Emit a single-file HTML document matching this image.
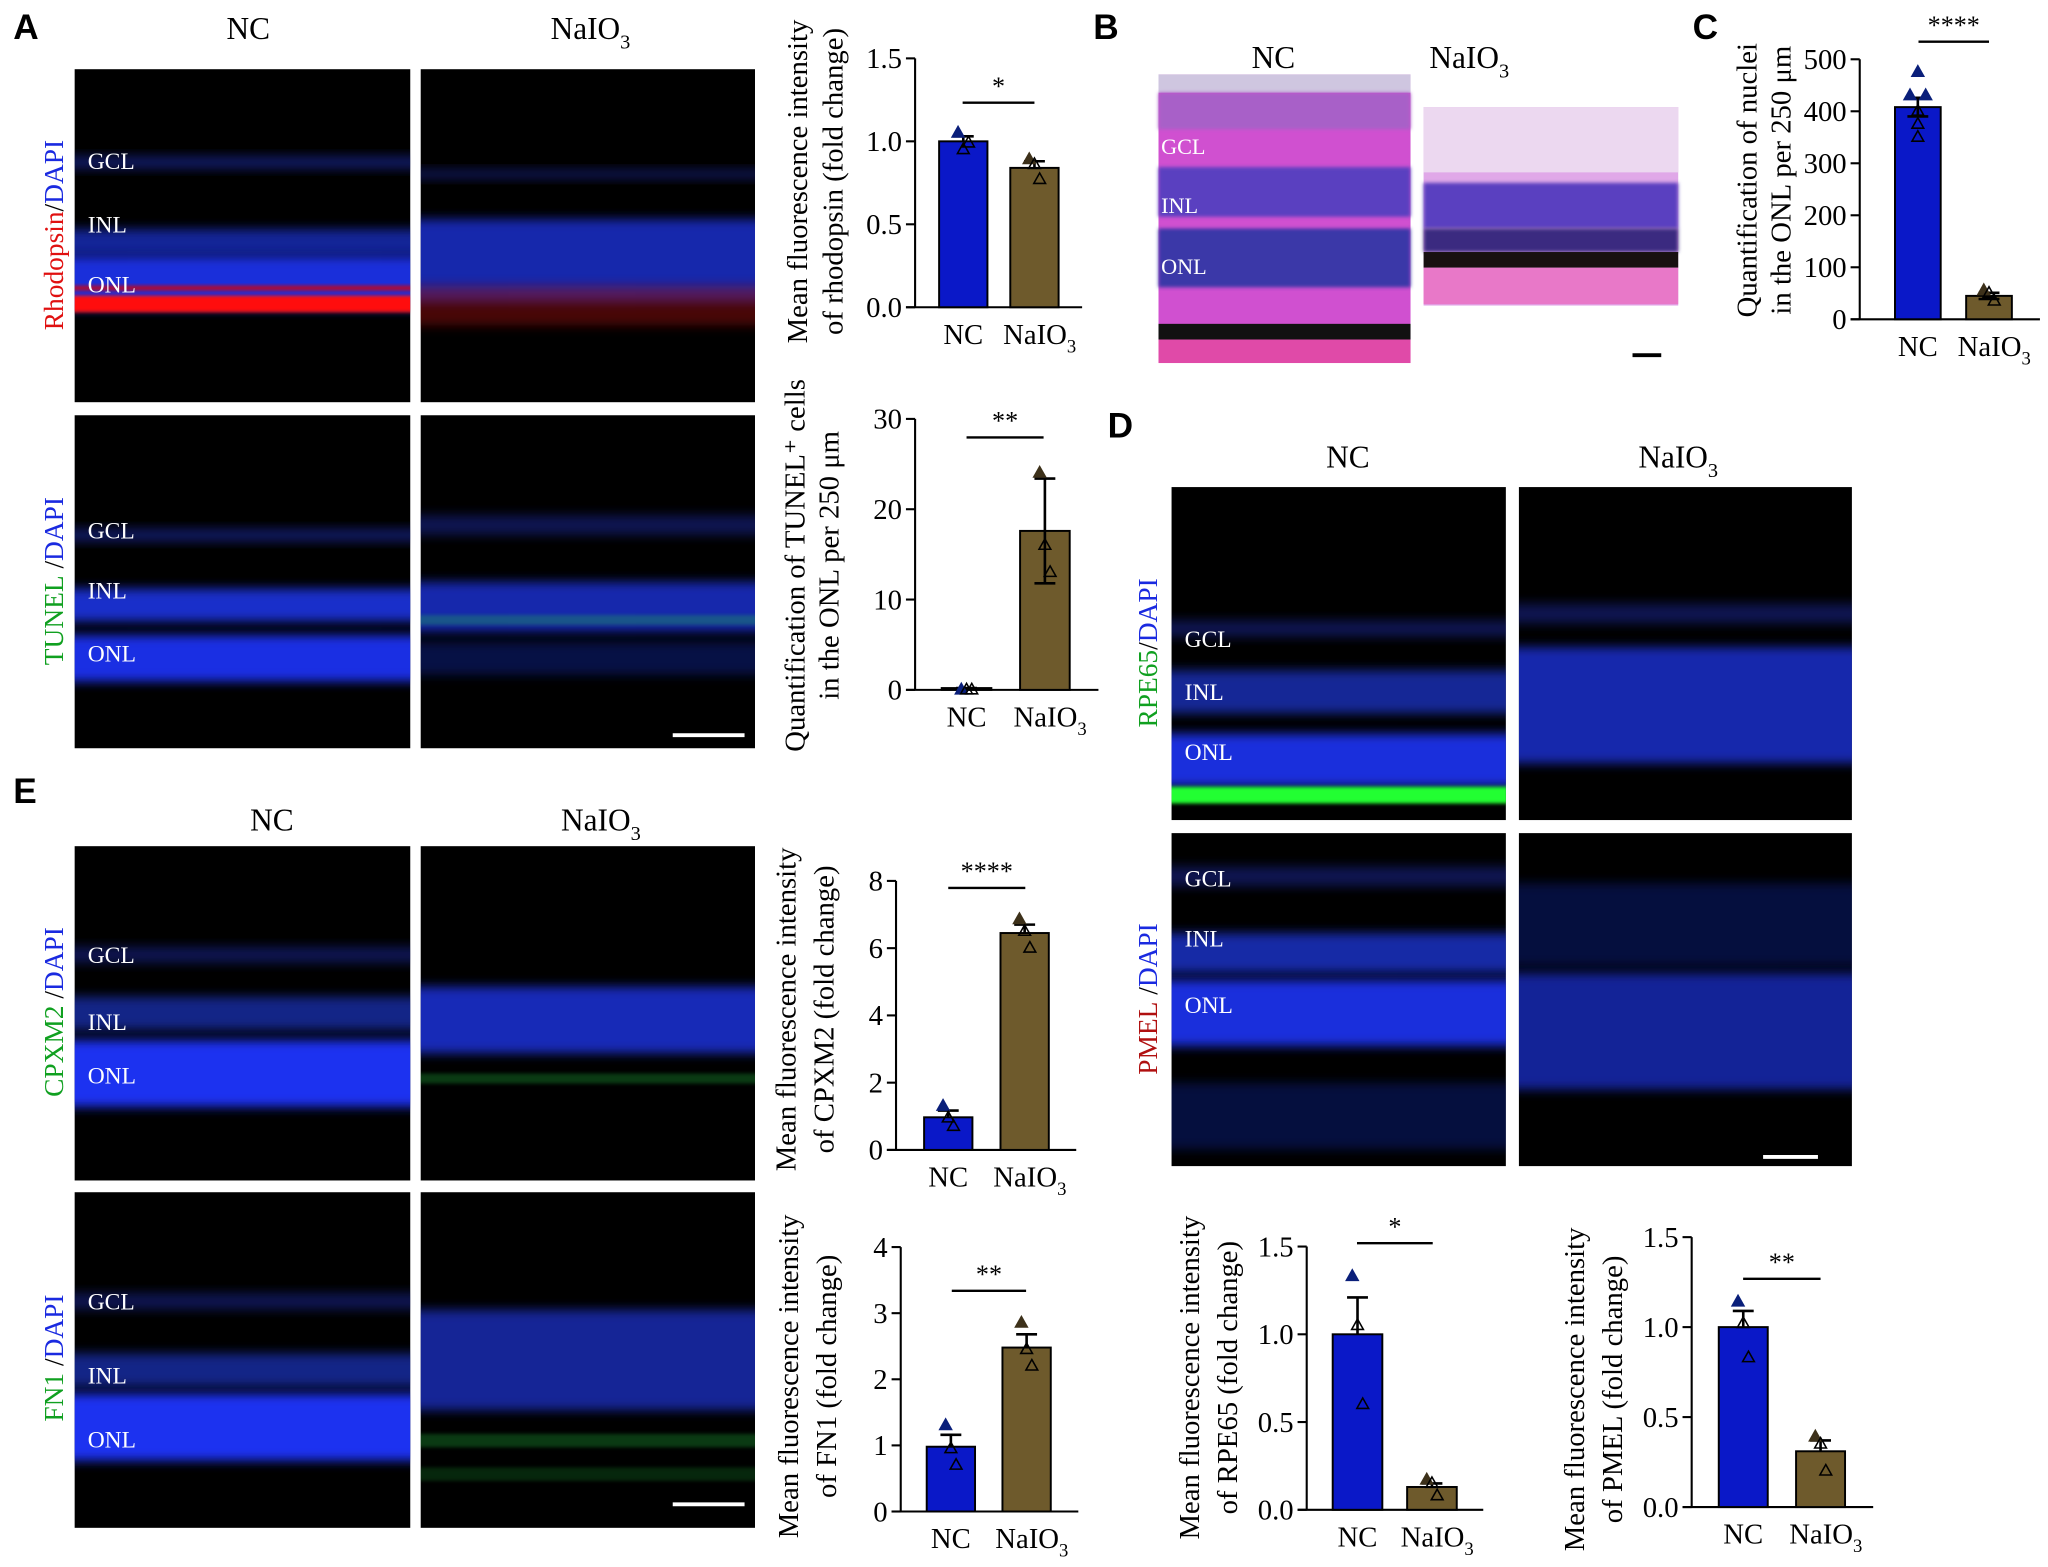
<!DOCTYPE html>
<html><head><meta charset="utf-8"><style>
html,body{margin:0;padding:0;background:#fff;}
svg{display:block;font-family:"Liberation Serif",serif;}
.pl{font-family:"Liberation Sans",sans-serif;font-weight:bold;font-size:27px;}
</style></head><body>
<svg id="fig" width="2048" height="1567" viewBox="0 0 1568 1200" xmlns="http://www.w3.org/2000/svg">
<defs>
<filter id="bl" x="-5%" y="-50%" width="110%" height="200%"><feGaussianBlur stdDeviation="4"/></filter>
<filter id="bl2" x="-5%" y="-50%" width="110%" height="200%"><feGaussianBlur stdDeviation="1.5"/></filter>
</defs>
<g id="micro"></g>
<g id="texts">
<text class="pl" x="10" y="30">A</text>
<text class="pl" x="837" y="30">B</text>
<text class="pl" x="1296" y="30">C</text>
<text class="pl" x="848" y="335">D</text>
<text class="pl" x="10" y="615">E</text>
</g>
<g id="charts"></g>
</svg>
<script>
// ---- Chart data ----
const groups = ["NC", "NaIO3"];
const a1Means = [1.0, 0.84];
const a1Errors = [0.03, 0.04];
const a1PointsNC = [1.05, 0.95, 0.99];
const a1PointsNa = [0.89, 0.86, 0.77];
const a1Ticks = [0, 0.5, 1.0, 1.5];
const a1TickLabels = ["0.0", "0.5", "1.0", "1.5"];

const a2Means = [0.2, 17.6];
const a2Errors = [0, 5.8];
const a2PointsNC = [0, 0, 0];
const a2PointsNa = [24, 16, 13];
const a2Ticks = [0, 10, 20, 30];
const a2TickLabels = ["0", "10", "20", "30"];

const cMeans = [408, 45];
const cErrors = [18, 6];
const cPointsNC = [475, 430, 430, 400, 375, 350];
const cPointsNa = [55, 50, 35];
const cTicks = [0, 100, 200, 300, 400, 500];
const cTickLabels = ["0", "100", "200", "300", "400", "500"];

const e1Means = [0.97, 6.45];
const e1Errors = [0.2, 0.25];
const e1PointsNC = [1.3, 0.95, 0.7];
const e1PointsNa = [6.85, 6.5, 6.0];
const e1Ticks = [0, 2, 4, 6, 8];
const e1TickLabels = ["0", "2", "4", "6", "8"];

const e2Means = [0.98, 2.48];
const e2Errors = [0.18, 0.2];
const e2PointsNC = [1.3, 0.95, 0.7];
const e2PointsNa = [2.85, 2.45, 2.2];
const e2Ticks = [0, 1, 2, 3, 4];
const e2TickLabels = ["0", "1", "2", "3", "4"];

const d1Means = [1.0, 0.13];
const d1Errors = [0.21, 0.02];
const d1PointsNC = [1.33, 1.05, 0.6];
const d1PointsNa = [0.17, 0.15, 0.08];
const d1Ticks = [0, 0.5, 1.0, 1.5];
const d1TickLabels = ["0.0", "0.5", "1.0", "1.5"];

const d2Means = [1.0, 0.31];
const d2Errors = [0.09, 0.06];
const d2PointsNC = [1.14, 1.02, 0.83];
const d2PointsNa = [0.39, 0.35, 0.2];
const d2Ticks = [0, 0.5, 1.0, 1.5];
const d2TickLabels = ["0.0", "0.5", "1.0", "1.5"];

const NS = "http://www.w3.org/2000/svg";
function mk(parent, tag, attrs, text) {
  const e = document.createElementNS(NS, tag);
  for (const k in attrs) e.setAttribute(k, attrs[k]);
  if (text !== undefined) e.textContent = text;
  parent.appendChild(e);
  return e;
}
const charts = document.getElementById('charts');
const micro = document.getElementById('micro');
const texts = document.getElementById('texts');

function nalabel(parent, x, y, size, anchor) {
  const t = mk(parent, 'text', {x: x, y: y, 'font-size': size, 'text-anchor': anchor || 'middle', fill: '#000'});
  
  
  mk(t, 'tspan', {}, 'NaIO');
  mk(t, 'tspan', {dy: size * 0.3, 'font-size': size * 0.65}, '3');
  return t;
}

function chart(name, L, means, errors, ptsNC, ptsNa, ticks, tickLabels, sig, titles) {
  const g = mk(charts, 'g', {});
  
  
  const max = ticks[ticks.length - 1];
  const y = v => L.y0 - (v / max) * (L.y0 - L.yTop);
  const ax = mk(g, 'line', {x1: L.ax, y1: L.yTop, x2: L.ax, y2: L.y0, stroke: '#000', 'stroke-width': 1.6});
  
  
  const bx = mk(g, 'line', {x1: L.ax - 7, y1: L.y0, x2: L.xEnd, y2: L.y0, stroke: '#000', 'stroke-width': 1.6});
  
  
  ticks.forEach((t, i) => {
    mk(g, 'line', {x1: L.ax - 7, y1: y(t), x2: L.ax, y2: y(t), stroke: '#000', 'stroke-width': 1.6});
    const tl = mk(g, 'text', {x: L.ax - 10, y: y(t) + 7.5, 'font-size': 22, 'text-anchor': 'end'}, tickLabels[i]);
    
    
  });
  const colors = ['#0a18c8', '#6e5a2c'];
  const ptCol = ['#0a1f7a', '#3d311a'];
  const allPts = [ptsNC, ptsNa];
  means.forEach((m, i) => {
    const cx = L.cx[i];
    const top = y(m);
    const r = mk(g, 'rect', {x: cx - L.bw / 2, y: top, width: L.bw, height: L.y0 - top, fill: colors[i], stroke: '#000', 'stroke-width': 1.5});
    
    
    const eTop = y(m + errors[i]);
    let d = `M${cx},${top} L${cx},${eTop} M${cx - 8},${eTop} L${cx + 8},${eTop}`;
    if (L.bothErr && errors[i] > 0) { const eb = y(m - errors[i]); d += ` M${cx},${top} L${cx},${eb} M${cx - 8},${eb} L${cx + 8},${eb}`; }
    if (L.bothErrAll) { const eb = y(m - errors[i]); d += ` M${cx},${top} L${cx},${eb} M${cx - 8},${eb} L${cx + 8},${eb}`; }
    const e = mk(g, 'path', {d: d, stroke: '#000', 'stroke-width': 2, fill: 'none'});
    
    
    allPts[i].forEach((p, j) => {
      const n = allPts[i].length;
      const off = n > 3 ? ([0, -6, 6, 0, 0, 0][j]) : (j - 1) * 4;
      const py = y(p);
      const filled = j === 0 || (n > 3 && j < 3);
      const tri = mk(g, 'path', {d: `M${cx + off},${py - 5} L${cx + off + 4.5},${py + 3} L${cx + off - 4.5},${py + 3} Z`, fill: filled ? ptCol[i] : 'none', stroke: filled ? ptCol[i] : '#000', 'stroke-width': 1.2});
      
      
    });
  });
  const xl = mk(g, 'text', {x: L.cx[0], y: L.y0 + 28, 'font-size': 22, 'text-anchor': 'middle'}, 'NC');
  
  
  nalabel(g, L.cx[1] + 4, L.y0 + 28, 22);
  const sl = mk(g, 'line', {x1: sig.x1, y1: sig.y, x2: sig.x2, y2: sig.y, stroke: '#000', 'stroke-width': 1.8});
  
  
  const st = mk(g, 'text', {x: (sig.x1 + sig.x2) / 2, y: sig.y - 6, 'font-size': 20, 'text-anchor': 'middle'}, sig.t);
  
  
  const tt = mk(g, 'text', {transform: `translate(${L.tx},${L.tcy}) rotate(-90)`, 'font-size': 22, 'text-anchor': 'middle'});
  
  
  mk(tt, 'tspan', {x: 0, y: 0}, titles[0]);
  mk(tt, 'tspan', {x: 0, y: L.ls || 28}, titles[1]);
}

chart('chart-rhodopsin', {ax: 700.6, y0: 235.3, yTop: 44.7, xEnd: 828.5, cx: [737.5, 792], bw: 37, tx: 618, tcy: 139, ls: 27},
  a1Means, a1Errors, a1PointsNC, a1PointsNa, a1Ticks, a1TickLabels, {x1: 737, x2: 792, y: 78.6, t: '*'},
  ['Mean fluorescence intensity', 'of rhodopsin (fold change)']);
chart('chart-tunel', {ax: 700.6, y0: 528.3, yTop: 320.8, xEnd: 841, cx: [740, 800], bw: 38, tx: 616, tcy: 433, bothErr: true, ls: 26},
  a2Means, a2Errors, a2PointsNC, a2PointsNa, a2Ticks, a2TickLabels, {x1: 740, x2: 799, y: 335, t: '**'},
  ['Quantification of TUNEL\u207A cells', 'in the ONL per 250 \u03BCm']);
chart('chart-nuclei', {ax: 1424, y0: 244.5, yTop: 45.4, xEnd: 1562, cx: [1468.5, 1523], bw: 35, tx: 1345, tcy: 138, bothErrAll: true, ls: 26},
  cMeans, cErrors, cPointsNC, cPointsNa, cTicks, cTickLabels, {x1: 1469, x2: 1523, y: 31.9, t: '****'},
  ['Quantification of nuclei', 'in the ONL per 250 \u03BCm']);
chart('chart-cpxm2', {ax: 686, y0: 880.6, yTop: 674.6, xEnd: 824, cx: [726, 784.5], bw: 37, tx: 609, tcy: 773, ls: 29},
  e1Means, e1Errors, e1PointsNC, e1PointsNa, e1Ticks, e1TickLabels, {x1: 726, x2: 785, y: 680, t: '****'},
  ['Mean fluorescence intensity', 'of CPXM2 (fold change)']);
chart('chart-fn1', {ax: 689.6, y0: 1157.5, yTop: 955, xEnd: 825.6, cx: [728, 786], bw: 37, tx: 611, tcy: 1054, ls: 29},
  e2Means, e2Errors, e2PointsNC, e2PointsNa, e2Ticks, e2TickLabels, {x1: 728.7, x2: 785.6, y: 988.5, t: '**'},
  ['Mean fluorescence intensity', 'of FN1 (fold change)']);
chart('chart-rpe65', {ax: 1000.5, y0: 1156.2, yTop: 954.6, xEnd: 1135.7, cx: [1039.4, 1096.4], bw: 38, tx: 918, tcy: 1055, ls: 29},
  d1Means, d1Errors, d1PointsNC, d1PointsNa, d1Ticks, d1TickLabels, {x1: 1039, x2: 1097, y: 952, t: '*'},
  ['Mean fluorescence intensity', 'of RPE65 (fold change)']);
chart('chart-pmel', {ax: 1295.3, y0: 1154.1, yTop: 947.4, xEnd: 1434.3, cx: [1334.8, 1394], bw: 37.5, tx: 1213, tcy: 1064, ls: 29},
  d2Means, d2Errors, d2PointsNC, d2PointsNa, d2Ticks, d2TickLabels, {x1: 1334.7, x2: 1394, y: 979.3, t: '**'},
  ['Mean fluorescence intensity', 'of PMEL (fold change)']);

// ---- Micrographs (decorative) ----
function panel(name, x, y, w, h, bands, labels) {
  const g = mk(micro, 'g', {});
  
  
  mk(g, 'rect', {x: x, y: y, width: w, height: h, fill: '#000'});
  const cp = 'cp' + name;
  const c = mk(g, 'clipPath', {id: cp});
  mk(c, 'rect', {x: x, y: y, width: w, height: h});
  const inner = mk(g, 'g', {'clip-path': `url(#${cp})`});
  bands.forEach(b => {
    mk(inner, 'rect', {x: x - 10, y: y + b[0] * h, width: w + 20, height: b[1] * h, fill: b[2], opacity: b[3], filter: b[4] ? 'url(#bl2)' : 'url(#bl)'});
  });
  (labels || []).forEach(l => {
    const t = mk(g, 'text', {x: x + 10, y: y + l[1] * h, 'font-size': 18, fill: '#fff'}, l[0]);
    
    
  });
  return g;
}
const L3 = [['GCL', 0.3], ['INL', 0.49], ['ONL', 0.67]];
const blueNC = [[0.26, 0.04, '#1a2aa0', 0.6], [0.48, 0.08, '#1f35d8', 0.7], [0.56, 0.16, '#1c30e6', 0.95]];
panel('img-rhodopsin-nc', 57, 53, 257, 255, blueNC.concat([[0.68, 0.05, '#ff1010', 1, true], [0.65, 0.015, '#d00', 0.8, true]]), L3);
panel('img-rhodopsin-naio3', 322, 53, 256, 255, [[0.3, 0.03, '#1a2aa0', 0.5], [0.45, 0.25, '#1c30d8', 0.8], [0.65, 0.12, '#901010', 0.5]]);
panel('img-tunel-nc', 57, 318, 257, 255, [[0.34, 0.04, '#1a2aa0', 0.6], [0.52, 0.1, '#1f35e0', 0.9], [0.66, 0.14, '#1c30f0', 0.95]], [['GCL', 0.37], ['INL', 0.55], ['ONL', 0.74]]);
panel('img-tunel-naio3', 322, 318, 256, 255, [[0.3, 0.06, '#1a2aa0', 0.5], [0.5, 0.15, '#1c30d8', 0.8], [0.6, 0.03, '#20c040', 0.3, true], [0.68, 0.1, '#10208a', 0.5]]);
panel('img-cpxm2-nc', 57, 648, 257, 256, [[0.3, 0.05, '#1a2aa0', 0.5], [0.45, 0.1, '#1f35c0', 0.7], [0.58, 0.2, '#1c30f0', 1]], [['GCL', 0.35], ['INL', 0.55], ['ONL', 0.71]]);
panel('img-cpxm2-naio3', 322, 648, 256, 256, [[0.42, 0.2, '#1c30d8', 0.85], [0.68, 0.03, '#20c040', 0.3, true]]);
panel('img-fn1-nc', 57, 913, 257, 257, [[0.3, 0.05, '#1a2aa0', 0.5], [0.48, 0.1, '#1f35c0', 0.7], [0.6, 0.2, '#1c30f0', 1]], [['GCL', 0.35], ['INL', 0.57], ['ONL', 0.76]]);
panel('img-fn1-naio3', 322, 913, 256, 257, [[0.35, 0.3, '#1c30c8', 0.75], [0.72, 0.04, '#20c040', 0.3, true], [0.82, 0.04, '#20c040', 0.2, true]]);
panel('img-rpe65-nc', 897, 373, 256, 255, [[0.4, 0.05, '#1a2aa0', 0.5], [0.55, 0.13, '#1f35c8', 0.75], [0.74, 0.16, '#1c30e8', 0.95], [0.9, 0.05, '#20ff30', 1, true]], [['GCL', 0.48], ['INL', 0.64], ['ONL', 0.82]]);
panel('img-rpe65-naio3', 1163, 373, 255, 255, [[0.35, 0.06, '#1a2aa0', 0.5], [0.48, 0.35, '#1c30d8', 0.8]]);
panel('img-pmel-nc', 897, 638, 256, 255, [[0.1, 0.06, '#1a2aa0', 0.5], [0.3, 0.12, '#1f35d0', 0.8], [0.44, 0.2, '#1c30e8', 0.95], [0.75, 0.2, '#10208a', 0.45]], [['GCL', 0.16], ['INL', 0.34], ['ONL', 0.54]]);
panel('img-pmel-naio3', 1163, 638, 255, 255, [[0.15, 0.25, '#10208a', 0.45], [0.42, 0.35, '#1c30d8', 0.7]]);
(function(){
  const g = mk(micro, 'g', {});
  
  
  mk(g, 'rect', {x: 887, y: 57, width: 193, height: 221, fill: '#d050d0'});
  mk(g, 'rect', {x: 887, y: 57, width: 193, height: 14, fill: '#cfc6e0'});
  mk(g, 'rect', {x: 887, y: 71, width: 193, height: 28, fill: '#a860c8', filter: 'url(#bl2)'});
  mk(g, 'rect', {x: 887, y: 128, width: 193, height: 38, fill: '#5a40c0', filter: 'url(#bl2)'});
  mk(g, 'rect', {x: 887, y: 175, width: 193, height: 45, fill: '#3a38a8', filter: 'url(#bl2)'});
  mk(g, 'rect', {x: 887, y: 248, width: 193, height: 12, fill: '#111'});
  mk(g, 'rect', {x: 887, y: 260, width: 193, height: 18, fill: '#e04aa8'});
  [['GCL', 118], ['INL', 163], ['ONL', 210]].forEach(l => {
    const t = mk(g, 'text', {x: 889, y: l[1], 'font-size': 17, fill: '#fff'}, l[0]);
    
    
  });
  const h = mk(micro, 'g', {});
  
  
  mk(h, 'rect', {x: 1090, y: 82, width: 195, height: 152, fill: '#e0a8e8'});
  mk(h, 'rect', {x: 1090, y: 82, width: 195, height: 50, fill: '#ecd8f0'});
  mk(h, 'rect', {x: 1090, y: 140, width: 195, height: 35, fill: '#5a40c0', filter: 'url(#bl2)'});
  mk(h, 'rect', {x: 1090, y: 175, width: 195, height: 18, fill: '#3a2a80', filter: 'url(#bl2)'});
  mk(h, 'rect', {x: 1090, y: 193, width: 195, height: 12, fill: '#181010'});
  mk(h, 'rect', {x: 1090, y: 205, width: 195, height: 28, fill: '#e878c8'});
})();
[[515, 570, 563], [1250, 1272, 272], [1350, 1392, 886], [515, 570, 1152]].forEach(s => {
  const l = mk(micro, 'line', {x1: s[0], x2: s[1], y1: s[2], y2: s[2], stroke: s[2] === 272 ? '#000' : '#fff', 'stroke-width': 3});
  
  
});
[[190, 30], [1032, 358], [208, 636], [975, 52]].forEach(p => {
  const t = mk(texts, 'text', {x: p[0], y: p[1], 'font-size': 24, 'text-anchor': 'middle'}, 'NC');
  
  
});
[[452, 30], [1285, 358], [460, 636], [1125, 52]].forEach(p => nalabel(texts, p[0], p[1], 24));
function side(name, x, cy, parts) {
  const t = mk(texts, 'text', {transform: `translate(${x},${cy}) rotate(-90)`, 'font-size': 21, 'text-anchor': 'middle'});
  
  
  parts.forEach(p => mk(t, 'tspan', {fill: p[1]}, p[0]));
}
side('stain-label-rhodopsin', 48, 180, [['Rhodopsin', '#e01010'], ['/', '#000'], ['DAPI', '#1a2ae0']]);
side('stain-label-tunel', 48, 445, [['TUNEL', '#10a020'], [' /', '#000'], ['DAPI', '#1a2ae0']]);
side('stain-label-cpxm2', 48, 775, [['CPXM2', '#10a020'], [' /', '#000'], ['DAPI', '#1a2ae0']]);
side('stain-label-fn1', 48, 1040, [['FN1', '#10a020'], [' /', '#000'], ['DAPI', '#1a2ae0']]);
side('stain-label-rpe65', 886, 500, [['RPE65', '#10a020'], ['/', '#000'], ['DAPI', '#1a2ae0']]);
side('stain-label-pmel', 886, 765, [['PMEL', '#b01010'], [' /', '#000'], ['DAPI', '#1a2ae0']]);
</script>
</body></html>
